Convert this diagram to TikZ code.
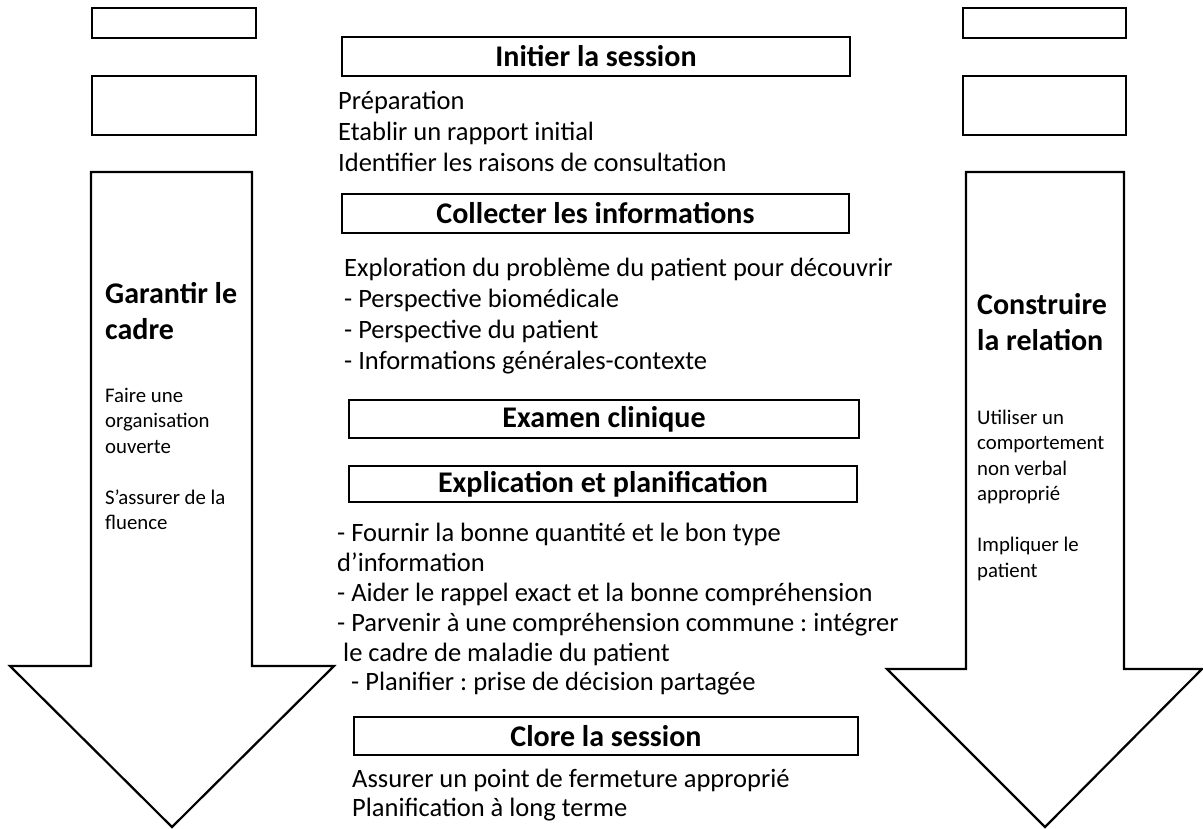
\documentclass[tikz,border=0pt]{standalone}
\usepackage{fontspec}
\setmainfont{Carlito}
\frenchspacing
\begin{document}
\begin{tikzpicture}[x=1pt,y=-1pt,
  emptybox/.style={draw=black,line width=2.5pt,fill=white,inner sep=0pt},
  stagebox/.style={draw=black,line width=2.3pt,fill=white,inner sep=0pt,
    font=\fontsize{30}{36}\selectfont\bfseries},
  bigarrow/.style={draw=black,line width=2.2pt,line join=miter,fill=white},
  bodytext/.style={anchor=base west,inner sep=0pt,font=\fontsize{26.5}{30}\selectfont},
  sidetitle/.style={anchor=base west,inner sep=0pt,font=\fontsize{30}{37}\selectfont\bfseries},
  sidetext/.style={anchor=base west,inner sep=0pt,font=\fontsize{20.8}{25}\selectfont}
]
\useasboundingbox (0,0) rectangle (1203,828);

% empty boxes
\node[emptybox,minimum width=164pt,minimum height=30pt] (lb1) at (174,23) {};
\node[emptybox,minimum width=164pt,minimum height=59pt] (lb2) at (174,105.5) {};
\node[emptybox,minimum width=163pt,minimum height=30pt] (rb1) at (1044.5,23) {};
\node[emptybox,minimum width=163pt,minimum height=59pt] (rb2) at (1044.5,105.5) {};

% big arrows
\draw[bigarrow] (91,172) -- (252,172) -- (252,666) -- (334,666) -- (172,827)
  -- (10,666) -- (91,666) -- cycle;
\draw[bigarrow] (966,172) -- (1124,172) -- (1124,669) -- (1202,669) -- (1045,827)
  -- (887,669) -- (966,669) -- cycle;

% left arrow text
\node[sidetitle] (lt1) at (105,303) {Garantir le};
\node[sidetitle] (lt2) at (105,339) {cadre};
\node[sidetext] (ls1) at (105,402) {Faire une};
\node[sidetext] (ls2) at (105,427.5) {organisation};
\node[sidetext] (ls3) at (105,453) {ouverte};
\node[sidetext] (ls4) at (105,504) {S’assurer de la};
\node[sidetext] (ls5) at (105,529.5) {fluence};

% right arrow text
\node[sidetitle] (rt1) at (977,314) {Construire};
\node[sidetitle] (rt2) at (977,350) {la relation};
\node[sidetext] (rs1) at (977,424) {Utiliser un};
\node[sidetext] (rs2) at (977,449.5) {comportement};
\node[sidetext] (rs3) at (977,475) {non verbal};
\node[sidetext] (rs4) at (977,500.5) {approprié};
\node[sidetext] (rs5) at (977,551.5) {Impliquer le};
\node[sidetext] (rs6) at (977,577) {patient};

% stage boxes
\node[stagebox,minimum width=508pt,minimum height=39pt] (s1) at (596,56.5) {Initier la session};
\node[stagebox,minimum width=507pt,minimum height=39pt] (s2) at (595.5,213.5) {Collecter les informations};
\node[stagebox,minimum width=510pt,minimum height=38pt] (s3) at (604,419) {Examen clinique};
\node[stagebox,minimum width=508pt,minimum height=36pt] (s4) at (603,484) {Explication et planification};
\node[stagebox,minimum width=504pt,minimum height=38pt] (s5) at (606,736) {Clore la session};

% stage contents
\node[bodytext] (a1) at (338,109) {Préparation};
\node[bodytext] (a2) at (338,140) {Etablir un rapport initial};
\node[bodytext] (a3) at (338,171) {Identifier les raisons de consultation};

\node[bodytext] (b1) at (344,276) {Exploration du problème du patient pour découvrir};
\node[bodytext] (b2) at (344,307) {- Perspective biomédicale};
\node[bodytext] (b3) at (344,338) {- Perspective du patient};
\node[bodytext] (b4) at (344,369) {- Informations générales-contexte};

\node[bodytext] (c1) at (337,541) {- Fournir la bonne quantité et le bon type};
\node[bodytext] (c2) at (337,571) {d’information};
\node[bodytext] (c3) at (337,601) {- Aider le rappel exact et la bonne compréhension};
\node[bodytext] (c4) at (337,631) {- Parvenir à une compréhension commune : intégrer};
\node[bodytext] (c5) at (343,661) {le cadre de maladie du patient};
\node[bodytext] (c6) at (351,690) {- Planifier : prise de décision partagée};

\node[bodytext] (d1) at (352,787) {Assurer un point de fermeture approprié};
\node[bodytext] (d2) at (352,816) {Planification à long terme};
\end{tikzpicture}
\end{document}
